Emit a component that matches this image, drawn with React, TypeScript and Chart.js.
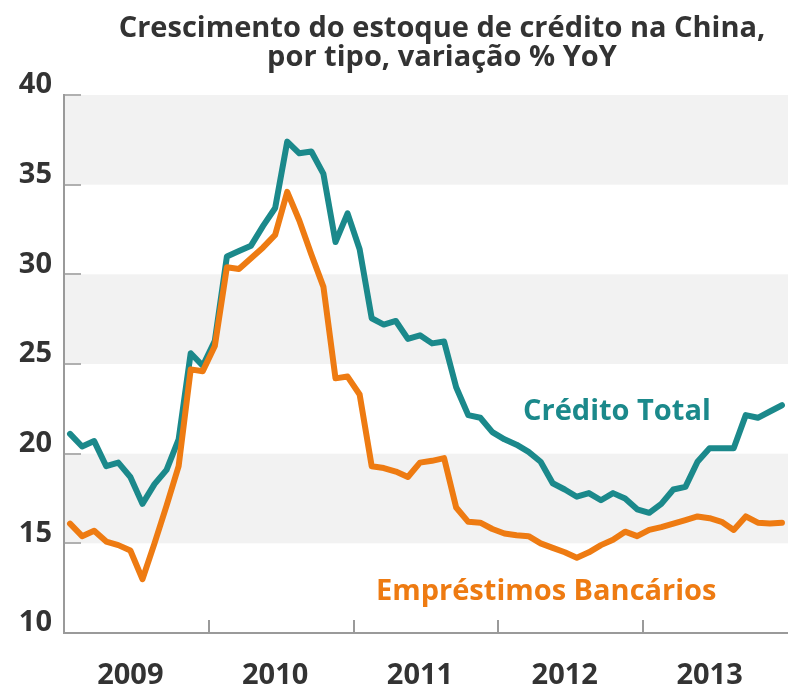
import React, { useEffect, useRef } from 'react';
import { Chart, registerables } from 'chart.js';

Chart.register(...registerables);

// ---- data ----
const yearLabels = ['2009', '2010', '2011', '2012', '2013'];
const monthNames = ['jan', 'fev', 'mar', 'abr', 'mai', 'jun', 'jul', 'ago', 'set', 'out', 'nov', 'dez'];
const months: string[] = yearLabels.flatMap((y) => monthNames.map((m) => `${m}/${y}`));

const creditoTotal = [
  21.1, 20.4, 20.7, 19.3, 19.5, 18.7, 17.2, 18.3, 19.1, 20.8, 25.6, 24.9,
  26.3, 31.0, 31.3, 31.6, 32.7, 33.7, 37.4, 36.75, 36.85, 35.6, 31.8, 33.4,
  31.4, 27.55, 27.2, 27.4, 26.4, 26.6, 26.15, 26.25, 23.7, 22.15, 22.0, 21.2,
  20.8, 20.5, 20.1, 19.55, 18.35, 18.0, 17.6, 17.8, 17.4, 17.8, 17.5, 16.9,
  16.7, 17.2, 18.0, 18.15, 19.55, 20.3, 20.3, 20.3, 22.15, 22.0, 22.35, 22.7,
];

const emprestimosBancarios = [
  16.1, 15.4, 15.7, 15.1, 14.9, 14.6, 13.0, 15.0, 17.1, 19.3, 24.7, 24.6,
  26.0, 30.4, 30.3, 30.9, 31.5, 32.2, 34.6, 33.0, 31.1, 29.3, 24.2, 24.3,
  23.3, 19.3, 19.2, 19.0, 18.7, 19.5, 19.6, 19.75, 17.0, 16.2, 16.15, 15.8,
  15.55, 15.45, 15.4, 15.0, 14.75, 14.5, 14.2, 14.5, 14.9, 15.2, 15.65, 15.4,
  15.75, 15.9, 16.1, 16.3, 16.5, 16.4, 16.2, 15.75, 16.5, 16.15, 16.1, 16.15,
];

const yMin = 10;
const yMax = 40;
const yStep = 5;
const shadedBands: [number, number][] = [
  [35, 40],
  [25, 30],
  [15, 20],
];

const titleLines = ['Crescimento do estoque de crédito na China,', 'por tipo, variação % YoY'];
const seriesNames = ['Crédito Total', 'Empréstimos Bancários'];

// ---- styles ----
const TEAL = '#1b898b';
const ORANGE = '#ee7b12';
const TEXT = '#333333';
const AXIS = '#9a9a9a';
const BAND = '#f2f2f2';
const FONT = '"Open Sans", "Noto Sans", sans-serif';
const FS = 29;

export default function App() {
  const ref = useRef<HTMLCanvasElement>(null);

  useEffect(() => {
    document.body.style.margin = '0';
    const canvas = ref.current;
    if (!canvas) return;

    const bandsPlugin = {
      id: 'bands',
      beforeDraw(chart: any) {
        const { ctx, chartArea: a, scales } = chart;
        const y = scales.y;
        ctx.save();
        ctx.fillStyle = BAND;
        for (const [lo, hi] of shadedBands) {
          const t = y.getPixelForValue(hi);
          const b = y.getPixelForValue(lo);
          ctx.fillRect(a.left, t, a.right - a.left, b - t);
        }
        ctx.restore();
      },
    };

    const textPlugin = {
      id: 'texts',
      afterDraw(chart: any) {
        const { ctx } = chart;
        ctx.save();
        ctx.textBaseline = 'alphabetic';
        ctx.font = `bold ${FS}px ${FONT}`;
        ctx.fillStyle = TEXT;
        ctx.textAlign = 'center';
        ctx.fillText(titleLines[0], 442, 37);
        ctx.fillText(titleLines[1], 442, 66);
        ctx.textAlign = 'left';
        ctx.fillStyle = TEAL;
        ctx.fillText(seriesNames[0], 523, 420);
        ctx.fillStyle = ORANGE;
        ctx.fillText(seriesNames[1], 376, 600);
        ctx.restore();
      },
    };

    const chart = new Chart(canvas, {
      type: 'line',
      data: {
        labels: months,
        datasets: [
          {
            label: seriesNames[1],
            data: emprestimosBancarios,
            borderColor: ORANGE,
            backgroundColor: ORANGE,
            borderWidth: 6,
            pointRadius: 0,
            tension: 0,
            borderJoinStyle: 'round',
            borderCapStyle: 'round',
          },
          {
            label: seriesNames[0],
            data: creditoTotal,
            borderColor: TEAL,
            backgroundColor: TEAL,
            borderWidth: 6,
            pointRadius: 0,
            tension: 0,
            borderJoinStyle: 'round',
            borderCapStyle: 'round',
          },
        ],
      },
      options: {
        responsive: false,
        animation: false,
        layout: { padding: { top: 95, left: 0, right: 0, bottom: 0 } },
        plugins: {
          legend: { display: false },
          tooltip: { enabled: false },
          title: { display: false },
        },
        scales: {
          x: {
            type: 'category',
            offset: true,
            grid: {
              offset: true,
              drawOnChartArea: false,
              drawTicks: true,
              tickLength: -13,
              lineWidth: 2,
              color: (c: any) =>
                c.index > 0 && c.index < months.length && c.index % 12 === 0 ? AXIS : 'rgba(0,0,0,0)',
            },
            border: { display: true, color: AXIS, width: 2 },
            ticks: {
              autoSkip: false,
              maxRotation: 0,
              minRotation: 0,
              padding: 38,
              color: TEXT,
              font: { family: FONT, size: FS, weight: 'bold' },
              callback: (_v: any, i: number) => (i % 12 === 5 ? yearLabels[Math.floor(i / 12)] : ''),
            },
            afterFit: (s: any) => {
              s.height = 52;
              s.paddingLeft = 0;
              s.paddingRight = 0;
            },
          },
          y: {
            min: yMin,
            max: yMax,
            ticks: {
              stepSize: yStep,
              padding: 29,
              labelOffset: -10,
              color: TEXT,
              font: { family: FONT, size: FS, weight: 'bold' },
            },
            grid: {
              drawOnChartArea: false,
              drawTicks: true,
              tickLength: -17,
              lineWidth: 2,
              color: '#b0b0b0',
            },
            border: { display: true, color: AXIS, width: 2 },
            afterFit: (s: any) => {
              s.width = 64;
            },
          },
        },
      },
      plugins: [bandsPlugin, textPlugin],
    } as any);

    return () => chart.destroy();
  }, []);

  return (
    <div style={{ position: 'absolute', left: 0, top: 0, width: 788, height: 685 }}>
      <canvas ref={ref} width={788} height={685} style={{ display: 'block' }} />
    </div>
  );
}
